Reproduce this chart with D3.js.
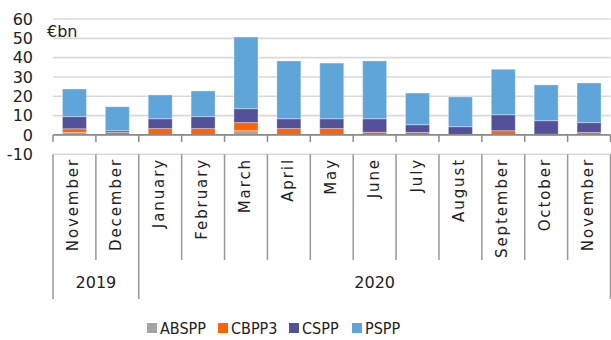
<!DOCTYPE html>
<html>
<head>
<meta charset="utf-8">
<script src="https://cdn.jsdelivr.net/npm/d3@7"></script>
<style>
  html, body { margin: 0; padding: 0; background: #fff; }
  svg { display: block; font-family: "DejaVu Sans", sans-serif; }
</style>
</head>
<body>
<svg id="chart" width="611" height="340"></svg>
<script>
// Monthly net purchases under the ECB asset purchase programmes, €bn
const months = ["November", "December", "January", "February", "March", "April", "May",
                "June", "July", "August", "September", "October", "November"];
const years = [
  { label: "2019", from: 0, to: 2 },
  { label: "2020", from: 2, to: 13 }
];
const seriesNames = ["ABSPP", "CBPP3", "CSPP", "PSPP"];
const absppValues = [1.3, 0.3, 0.2, 0.2, 2.2, 0.2, 0.2, 0.2, 0.2, 0.2, 0.3, 0.4, 0.3];
const cbpp3Values = [1.9, 1.0, 3.1, 3.1, 4.2, 3.1, 3.1, 1.2, 1.1, 0.1, 1.9, -0.4, 1.0];
const csppValues  = [6.3, 0.9, 5.1, 6.2, 7.2, 5.1, 5.1, 7.0, 4.0, 4.0, 8.3, 7.0, 5.1];
const psppValues  = [14.3, 12.4, 12.3, 13.3, 37.1, 29.9, 28.8, 29.9, 16.4, 15.4, 23.5, 18.5, 20.5];
const yTicks = [-10, 0, 10, 20, 30, 40, 50, 60];

const colors = {
  ABSPP: "#a5a5a5",
  CBPP3: "#ff6200",
  CSPP:  "#525199",
  PSPP:  "#5fa5da"
};

const rows = months.map((m, i) => ({
  idx: i,
  ABSPP: absppValues[i],
  CBPP3: cbpp3Values[i],
  CSPP: csppValues[i],
  PSPP: psppValues[i]
}));

const svg = d3.select("#chart");
const left = 53, right = 610.5;

const x = d3.scaleBand().domain(d3.range(months.length)).range([left, right]).padding(0);
const y = d3.scaleLinear().domain([-10, 60]).range([154.3, 19]);
const barW = x.bandwidth() * 0.56;

// horizontal gridlines
svg.append("g").selectAll("line").data(yTicks).join("line")
  .attr("x1", left).attr("x2", right)
  .attr("y1", d => y(d)).attr("y2", d => y(d))
  .attr("stroke", "#d9d9d9").attr("stroke-width", 1.6);

// y-axis labels
svg.append("g").selectAll("text").data(yTicks).join("text")
  .attr("x", 33).attr("y", d => y(d)).attr("dy", "0.36em")
  .attr("text-anchor", "end").attr("font-size", 16).attr("fill", "#222")
  .text(d => d);

svg.append("text").attr("x", 47).attr("y", 37)
  .attr("font-size", 16).attr("fill", "#222").text("€bn");

// stacked bars
const stack = d3.stack().keys(seriesNames).offset(d3.stackOffsetDiverging);
const layers = stack(rows);

svg.append("g").selectAll("g").data(layers).join("g")
  .attr("fill", d => colors[d.key])
  .selectAll("rect").data(d => d).join("rect")
  .attr("x", d => x(d.data.idx) + (x.bandwidth() - barW) / 2)
  .attr("width", barW)
  .attr("y", d => y(Math.max(d[0], d[1])))
  .attr("height", d => Math.abs(y(d[0]) - y(d[1])))
  .attr("stroke", "#ffffff").attr("stroke-opacity", 0.35).attr("stroke-width", 1);

// category axis at zero with tick marks at band edges
const edges = d3.range(months.length + 1).map(i => i < months.length ? x(i) : right);
svg.append("line")
  .attr("x1", left).attr("x2", right).attr("y1", y(0)).attr("y2", y(0))
  .attr("stroke", "#8c8c8c").attr("stroke-width", 1.8);
svg.append("g").selectAll("line").data(edges).join("line")
  .attr("x1", d => d).attr("x2", d => d)
  .attr("y1", y(0)).attr("y2", y(0) + 7)
  .attr("stroke", "#8c8c8c").attr("stroke-width", 1.5);

// month / year label grid below the plot
const yearEdges = new Set([0, 2, 13]);
svg.append("g").selectAll("line").data(edges).join("line")
  .attr("x1", d => d).attr("x2", d => d)
  .attr("y1", y(-10))
  .attr("y2", (d, i) => yearEdges.has(i) ? 299 : 260)
  .attr("stroke", "#999").attr("stroke-width", 1.5);

svg.append("g").selectAll("text").data(months).join("text")
  .attr("transform", (d, i) => `translate(${x(i) + x.bandwidth() / 2 + 4},158) rotate(-90)`)
  .attr("text-anchor", "end").attr("font-size", 15).attr("letter-spacing", 1.9)
  .attr("fill", "#222")
  .text(d => d);

svg.append("g").selectAll("text").data(years).join("text")
  .attr("x", d => (edges[d.from] + edges[d.to]) / 2)
  .attr("y", 288).attr("text-anchor", "middle")
  .attr("font-size", 16).attr("fill", "#222")
  .text(d => d.label);

// legend
const legendX = [147, 218, 289, 352];
const lg = svg.append("g").selectAll("g").data(seriesNames).join("g")
  .attr("transform", (d, i) => `translate(${legendX[i]},323)`);
lg.append("rect").attr("width", 10).attr("height", 10).attr("fill", d => colors[d]);
lg.append("text").attr("x", 13).attr("y", 11)
  .attr("font-family", "'DejaVu Sans Condensed', 'Liberation Sans Narrow', sans-serif")
  .attr("font-size", 16).attr("fill", "#222").text(d => d);
</script>
</body>
</html>
